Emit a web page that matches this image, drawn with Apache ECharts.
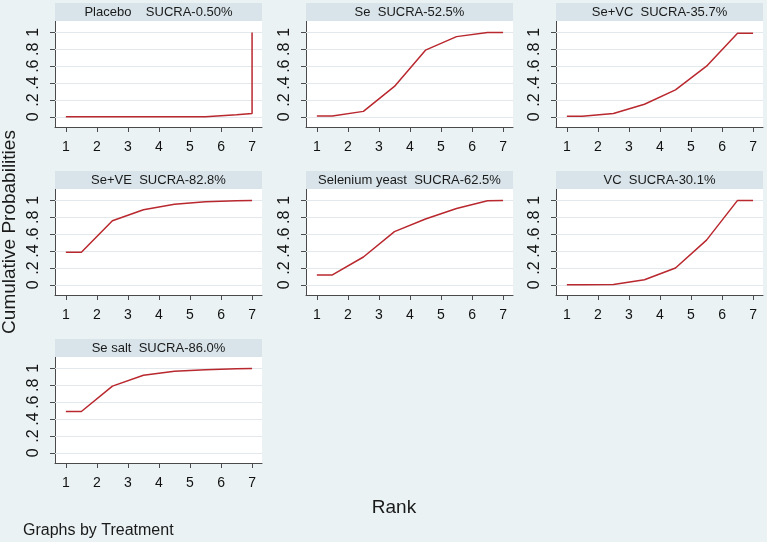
<!DOCTYPE html>
<html>
<head>
<meta charset="utf-8">
<script src="https://cdn.jsdelivr.net/npm/echarts@6/dist/echarts.min.js"></script>
<style>
html,body{margin:0;padding:0;background:#eaf2f3;}
#c{width:767px;height:542px;}
</style>
</head>
<body>
<div id="c"></div>
<script>
// ---- data ----
const ranks = [1, 1.5, 2.5, 3.5, 4.5, 5.5, 6.5, 7];
const placeboRanks = [1, 1.5, 2.5, 3.5, 4.5, 5.5, 6.5, 7, 7];
const treatments = ['Placebo', 'Se', 'Se+VC', 'Se+VE', 'Selenium yeast', 'VC', 'Se salt'];
const sucra = ['0.50%', '52.5%', '35.7%', '82.8%', '62.5%', '30.1%', '86.0%'];
const placebo = [0, 0, 0, 0, 0, 0, 0.025, 0.04, 1];
const se = [0.01, 0.01, 0.065, 0.36, 0.79, 0.95, 1.0, 1.0];
const seVC = [0.008, 0.008, 0.04, 0.15, 0.32, 0.60, 0.99, 0.99];
const seVE = [0.385, 0.385, 0.76, 0.89, 0.955, 0.983, 0.995, 1.0];
const selYeast = [0.118, 0.118, 0.33, 0.63, 0.78, 0.905, 0.997, 1.0];
const vc = [0, 0, 0.003, 0.06, 0.2, 0.53, 1.0, 1.0];
const seSalt = [0.49, 0.49, 0.79, 0.918, 0.965, 0.984, 0.996, 1.0];
const xTicks = [1, 2, 3, 4, 5, 6, 7];
const yTicks = [0, 0.2, 0.4, 0.6, 0.8, 1];
const yTickLabels = ['0', '.2', '.4', '.6', '.8', '1'];

const seriesValues = [placebo, se, seVC, seVE, selYeast, vc, seSalt];
const seriesRanks = [placeboRanks, ranks, ranks, ranks, ranks, ranks, ranks];
const titleGap = ['    ', '  ', '  ', '  ', '  ', '  ', '  '];

// ---- layout ----
const colLeft = [55, 306, 556];
const panelW = 207;
const rowTop = [21, 189, 357];
const panelH = 106;
const stripH = 18;

const grids = [], xAxes = [], yAxes = [], series = [], graphics = [];
treatments.forEach((name, i) => {
  const r = Math.floor(i / 3), c = i % 3;
  const left = colLeft[c], top = rowTop[r];
  grids.push({left: left, top: top, width: panelW, height: panelH, show: true,
    backgroundColor: '#ffffff', borderWidth: 0});
  xAxes.push({type: 'value', gridIndex: i, min: 0.65, max: 7.32,
    axisLine: {show: true, onZero: false, lineStyle: {color: '#4a4a4a', width: 1}},
    axisTick: {show: true, customValues: xTicks, length: 5, lineStyle: {color: '#4a4a4a'}},
    axisLabel: {show: true, customValues: xTicks, margin: 13, fontSize: 14,
      fontFamily: 'Liberation Sans, Arial, sans-serif', color: '#111'},
    splitLine: {show: false}});
  yAxes.push({type: 'value', gridIndex: i, min: -0.12, max: 1.135,
    axisLine: {show: true, onZero: false, lineStyle: {color: '#4a4a4a', width: 1}},
    axisTick: {show: true, customValues: yTicks, length: 5, lineStyle: {color: '#4a4a4a'}},
    axisLabel: {show: true, customValues: yTicks, rotate: 90, margin: 13, fontSize: 16,
      fontFamily: 'Liberation Sans, Arial, sans-serif', color: '#111',
      formatter: v => yTickLabels[yTicks.findIndex(t => Math.abs(t - v) < 1e-6)] || ''},
    splitLine: {show: false}});
  const vals = seriesValues[i], xs = seriesRanks[i];
  series.push({type: 'line', xAxisIndex: i, yAxisIndex: i, z: 10,
    data: vals.map((v, k) => [xs[k], v]),
    showSymbol: false, symbol: 'none', silent: true,
    lineStyle: {color: '#b8282e', width: 1.5},
    markLine: {silent: true, symbol: 'none', z: 1, label: {show: false},
      lineStyle: {color: '#e2e8eb', width: 1, type: 'solid'},
      emphasis: {disabled: true},
      data: yTicks.map(t => ({yAxis: t}))}
  });
  graphics.push({type: 'rect', left: left, top: top - stripH, z: 5,
    shape: {width: panelW, height: stripH}, style: {fill: '#d8e4ea'}});
  graphics.push({type: 'text', x: left + panelW / 2, y: top - stripH / 2 + 0.5, z: 6,
    style: {text: name + titleGap[i] + 'SUCRA-' + sucra[i], fill: '#1a1a1a',
      font: '13px "Liberation Sans", Arial, sans-serif', align: 'center', verticalAlign: 'middle'}});
});

graphics.push({type: 'text', x: 10, y: 232, rotation: Math.PI / 2, z: 6,
  style: {text: 'Cumulative Probabilities', fill: '#1a1a1a',
    font: '19px "Liberation Sans", Arial, sans-serif', align: 'center', verticalAlign: 'middle'}});
graphics.push({type: 'text', x: 394, y: 508, z: 6,
  style: {text: 'Rank', fill: '#1a1a1a',
    font: '19px "Liberation Sans", Arial, sans-serif', align: 'center', verticalAlign: 'middle'}});
graphics.push({type: 'text', x: 23, y: 531, z: 6,
  style: {text: 'Graphs by Treatment', fill: '#1a1a1a',
    font: '16px "Liberation Sans", Arial, sans-serif', align: 'left', verticalAlign: 'middle'}});

const chart = echarts.init(document.getElementById('c'));
chart.setOption({
  backgroundColor: '#eaf2f3',
  animation: false,
  grid: grids, xAxis: xAxes, yAxis: yAxes, series: series,
  graphic: graphics
});
</script>
</body>
</html>
